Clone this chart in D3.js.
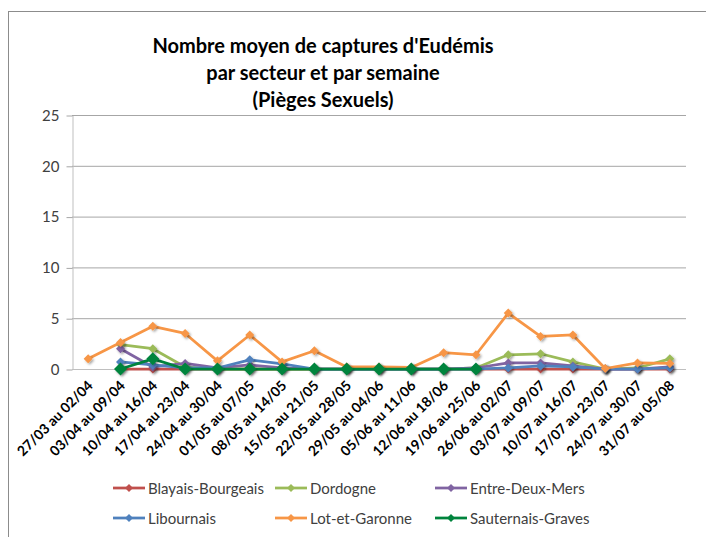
<!DOCTYPE html>
<html><head><meta charset="utf-8">
<script src="https://cdn.jsdelivr.net/npm/d3@7"></script>
<style>body{margin:0;background:#fff}svg{display:block}</style>
</head><body><svg id="c" width="706" height="537"></svg>
<script>
const categories = ["27/03 au 02/04","03/04 au 09/04","10/04 au 16/04","17/04 au 23/04","24/04 au 30/04","01/05 au 07/05","08/05 au 14/05","15/05 au 21/05","22/05 au 28/05","29/05 au 04/06","05/06 au 11/06","12/06 au 18/06","19/06 au 25/06","26/06 au 02/07","03/07 au 09/07","10/07 au 16/07","17/07 au 23/07","24/07 au 30/07","31/07 au 05/08"];
const blayais    = [null,0,0,0,0,0,0,0,0,0,0,0,0,0,0,0,0,0,0];
const dordogne   = [null,2.4,2.0,0.2,0,0,0,0,0,0,0,0,0.1,1.4,1.5,0.7,0,0.1,1.0];
const entreDeux  = [null,2.0,0.2,0.55,0.1,0.4,0.1,0,0,0,0,0,0.1,0.6,0.6,0.3,0,0,0.2];
const libournais = [null,0.7,0.4,0.1,0.1,0.9,0.5,0,0,0,0,0,0,0.1,0.3,0.2,0,0,0.1];
const lotGaronne = [1.0,2.6,4.2,3.5,0.8,3.35,0.7,1.8,0.2,0.2,0.15,1.6,1.4,5.5,3.2,3.35,0.05,0.6,0.55];
const sauternais = [null,0,1.0,0,0,0,0,0,0,0,0,0,0,null,null,null,null,null,null];
const yTicks = [0,5,10,15,20,25];
const titleLines = ["Nombre moyen de captures d'Eudémis","par secteur et par semaine","(Pièges Sexuels)"];

const series = [
  {name:"Blayais-Bourgeais", values:blayais, color:"#C0504D", r:4.5},
  {name:"Dordogne", values:dordogne, color:"#9BBB59", r:4.5},
  {name:"Entre-Deux-Mers", values:entreDeux, color:"#8064A2", r:4.5},
  {name:"Libournais", values:libournais, color:"#4F81BD", r:4.5},
  {name:"Lot-et-Garonne", values:lotGaronne, color:"#F79646", r:4.5},
  {name:"Sauternais-Graves", values:sauternais, color:"#00843D", r:6.5}
];

const svg = d3.select("#c");
const font = "Lato, 'Open Sans', sans-serif";
const L=72, R=686, T=115, B=369;

svg.append("rect").attr("x",8.5).attr("y",11.5).attr("width",720).attr("height",560)
  .attr("fill","none").attr("stroke","#8c8c8c").attr("stroke-width",1);

const defs = svg.append("defs");
const f = defs.append("filter").attr("id","sh").attr("x","-50%").attr("y","-50%").attr("width","200%").attr("height","200%");
f.append("feDropShadow").attr("dx",1.5).attr("dy",1.5).attr("stdDeviation",1.2).attr("flood-color","#000").attr("flood-opacity",0.35);

svg.append("g").selectAll("text").data(titleLines).join("text")
  .attr("x",323).attr("y",(d,i)=>53+i*27).attr("text-anchor","middle")
  .attr("font-family",font).attr("font-weight","bold").attr("font-size",20).attr("fill","#000").text(d=>d);

const x = d3.scalePoint().domain(categories).range([L,R]).padding(0.5);
const y = d3.scaleLinear().domain([0,25]).range([B,T]);

svg.append("g").selectAll("line").data(yTicks.filter(d=>d>0)).join("line")
  .attr("x1",L).attr("x2",R).attr("y1",d=>y(d)+0.5).attr("y2",d=>y(d)+0.5)
  .attr("stroke","#a6a6a6").attr("stroke-width",1);

const yAxis = svg.append("g").attr("transform",`translate(${L+0.5},0.5)`)
  .call(d3.axisLeft(y).tickValues(yTicks).tickSize(6).tickPadding(7).tickSizeOuter(0));
yAxis.select(".domain").attr("stroke","#bfbfbf");
yAxis.selectAll(".tick line").attr("stroke","#a6a6a6");
yAxis.selectAll(".tick text").attr("font-family",font).attr("font-size",15).attr("fill","#404040");

const xAxis = svg.append("g").attr("transform",`translate(0,${B+0.5})`)
  .call(d3.axisBottom(x).tickSize(0).tickSizeOuter(0));
xAxis.select(".domain").attr("stroke","#bfbfbf").attr("d",`M${L},0H${R}`);
xAxis.selectAll(".tick text")
  .attr("font-family",font).attr("font-size",14).attr("font-weight","bold").attr("fill","#000")
  .attr("text-anchor","end").attr("dy",0).attr("y",0)
  .attr("transform","translate(5,17) rotate(-45)");

const diamond = r => `M0,${-r}L${r},0L0,${r}L${-r},0Z`;
const line = d3.line().defined(d=>d.v!=null).x(d=>x(d.c)).y(d=>y(d.v));

series.forEach(s=>{
  const pts = categories.map((c,i)=>({c, v:s.values[i]}));
  const g = svg.append("g");
  g.append("path").datum(pts).attr("d",line).attr("fill","none")
    .attr("stroke",s.color).attr("stroke-width",2.75).attr("stroke-linejoin","round");
  g.selectAll("path.m").data(pts.filter(d=>d.v!=null)).join("path").attr("class","m")
    .attr("d",diamond(s.r)).attr("transform",d=>`translate(${x(d.c)},${y(d.v)})`)
    .attr("fill",s.color).attr("filter","url(#sh)");
});

const legPos = [[113,488],[275,488],[435,488],[113,518],[275,518],[435,518]];
const lg = svg.append("g").selectAll("g").data(series).join("g")
  .attr("transform",(d,i)=>`translate(${legPos[i][0]},${legPos[i][1]})`);
lg.append("line").attr("x1",0).attr("x2",32).attr("stroke",d=>d.color).attr("stroke-width",2.75);
lg.append("path").attr("d",diamond(4)).attr("transform","translate(16,0)").attr("fill",d=>d.color);
lg.append("text").attr("x",35).attr("y",5.5).attr("font-family",font).attr("font-size",15)
  .attr("fill","#404040").text(d=>d.name);
</script></body></html>
